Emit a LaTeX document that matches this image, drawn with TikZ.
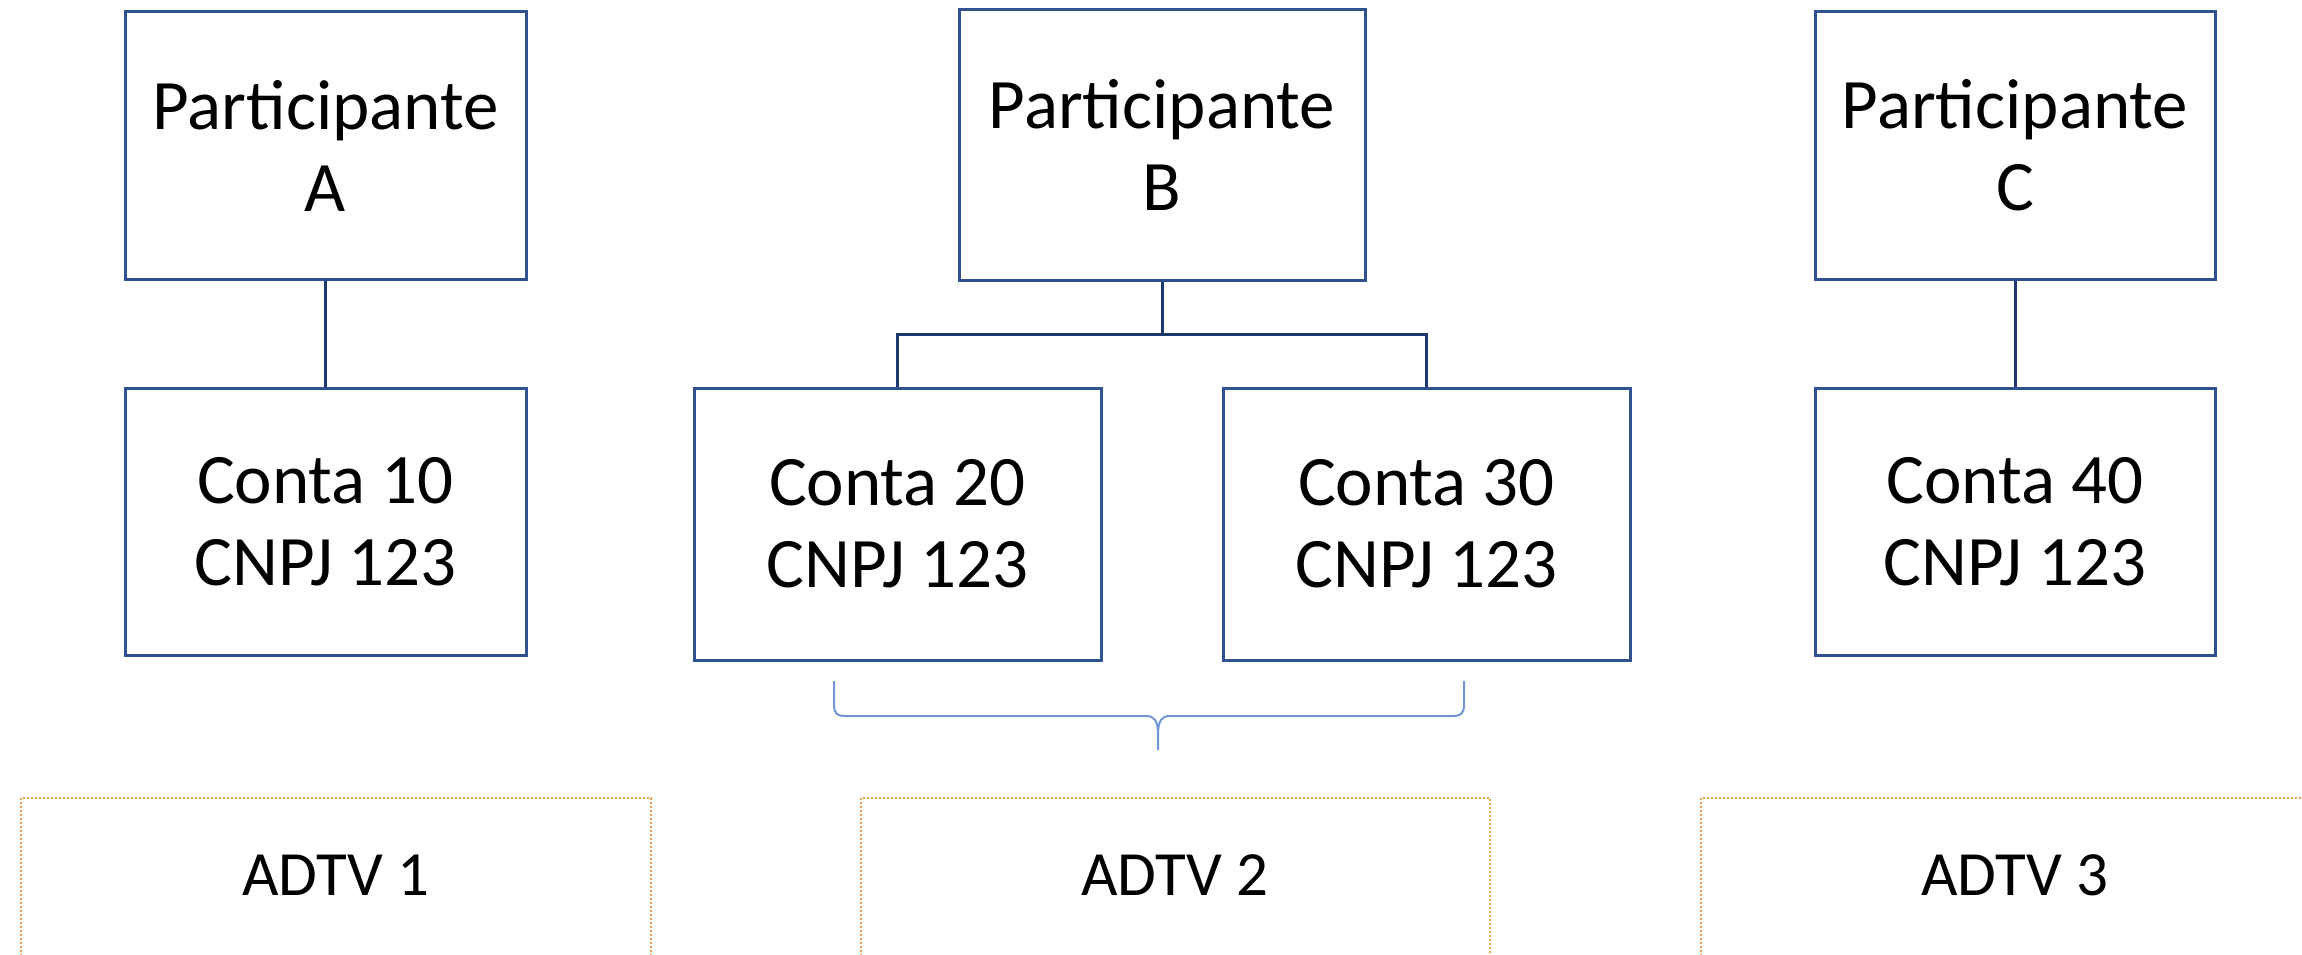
\documentclass[tikz,border=0pt]{standalone}
\usepackage{fontspec}
\setmainfont{Carlito}
\definecolor{boxblue}{RGB}{47,82,143}
\definecolor{linkblue}{RGB}{31,56,110}
\definecolor{braceblue}{RGB}{114,150,212}
\definecolor{dotorange}{RGB}{240,160,70}
\begin{document}
\begin{tikzpicture}[x=1pt,y=-1pt,
  pbox/.style={draw=boxblue,line width=3pt,fill=white,inner sep=0pt,align=center,
     font=\fontsize{71}{82}\selectfont},
  link/.style={draw=linkblue,line width=3pt},
  adtvtext/.style={inner sep=0pt,font=\fontsize{63}{75}\selectfont},
  adtvbox/.style={draw=dotorange,line width=2pt,dash pattern=on 2pt off 2pt},
  bracestyle/.style={draw=braceblue,line width=2pt}]
\clip (0,0) rectangle (2302,955);
\fill[white] (0,0) rectangle (2302,955);
% participants
\node[pbox,minimum width=401,minimum height=267] (pa) at (325.5,145.5) {Participante\\A};
\node[pbox,minimum width=406,minimum height=270] (pb) at (1162,145) {Participante\\B};
\node[pbox,minimum width=400,minimum height=267] (pc) at (2015,145.5) {Participante\\C};
% accounts
\node[pbox,minimum width=401,minimum height=267] (c10) at (325.5,521.5) {Conta 10\\CNPJ 123};
\node[pbox,minimum width=407,minimum height=272] (c20) at (897.5,524) {Conta 20\\CNPJ 123};
\node[pbox,minimum width=407,minimum height=272] (c30) at (1426.5,524) {Conta 30\\CNPJ 123};
\node[pbox,minimum width=400,minimum height=267] (c40) at (2015,521.5) {Conta 40\\CNPJ 123};
% connectors
\draw[link] (pa.south) -- (c10.north);
\draw[link] (pc.south) -- (c40.north);
\coordinate (bj) at (1162,334);
\draw[link] (pb.south) -- (bj);
\draw[link] (c20.north) |- (bj) -| (c30.north);
% brace
\coordinate (brl) at (834,681);
\coordinate (brr) at (1464,681);
\coordinate (brtip) at (1158,750);
\draw[bracestyle] (brl) -- (834,704) .. controls (834,714) and (837,716) .. (846,716)
  -- (1146,716) .. controls (1154,716) and (1158,720) .. (1158,735) -- (brtip);
\draw[bracestyle] (brr) -- (1464,704) .. controls (1464,714) and (1461,716) .. (1452,716)
  -- (1170,716) .. controls (1162,716) and (1158,720) .. (1158,735);
% ADTV boxes
\node[adtvtext] (ad1) at (336,875) {ADTV 1};
\node[adtvtext] (ad2) at (1175,875) {ADTV 2};
\node[adtvtext] (ad3) at (2015,875) {ADTV 3};
\draw[adtvbox] (21,1000) -- (21,798) -- (651,798) -- (651,1000);
\draw[adtvbox] (861,1000) -- (861,798) -- (1490,798) -- (1490,1000);
\draw[adtvbox] (1701,1000) -- (1701,798) -- (2400,798);
\end{tikzpicture}
\end{document}
